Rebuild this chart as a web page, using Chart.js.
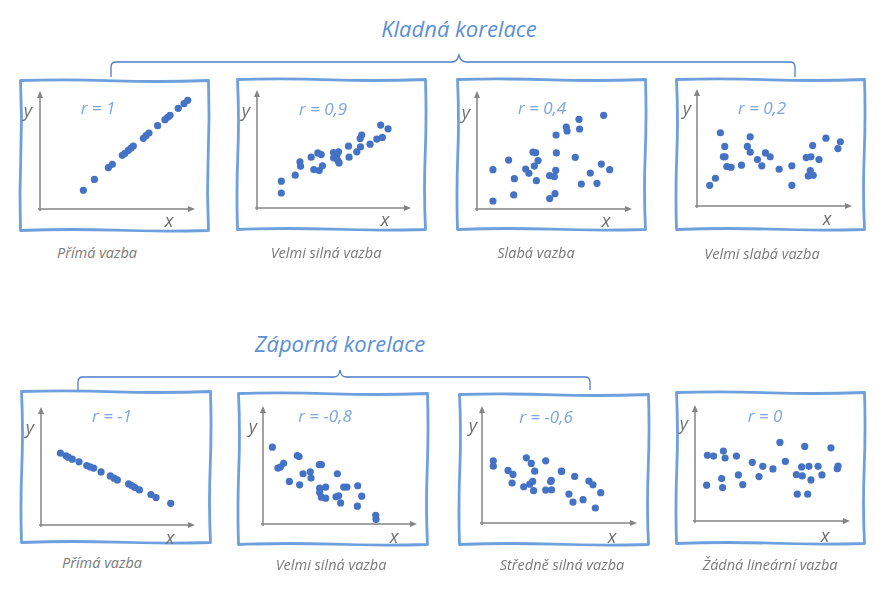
<!DOCTYPE html>
<html>
<head>
<meta charset="utf-8">
<script src="https://cdn.jsdelivr.net/npm/chart.js@4"></script>
<style>
  html, body { margin: 0; padding: 0; background: #ffffff; }
  #page { position: relative; width: 895px; height: 594px; overflow: hidden; font-family: "Open Sans", "DejaVu Sans", sans-serif; }
  .cbox { position: absolute; }
  .t { position: absolute; transform: translate(-50%, -50%); white-space: nowrap; font-style: italic; line-height: 1; }
  .title { font-size: 22px; color: #5b8fd6; }
  .rlab { font-size: 17px; color: #7ba6df; }
  .cap { font-size: 14.5px; color: #7a7a7a; }
  .ax { font-size: 18px; color: #6f6f6f; }
  svg { position: absolute; left: 0; top: 0; }
</style>
</head>
<body>
<div id="page">
<svg id="deco" width="895" height="594">
  <path d="M111,77 L111,67 Q111,62 116,62 L452,62 Q457,62 459,55 Q461,62 466,62 L790,62 Q795,62 795,67 L795,77" fill="none" stroke="#4d7cc8" stroke-width="1.3"/>
  <path d="M78,390 L78,382 Q78,377 83,377 L334,377 Q339,377 340,370 Q341,377 346,377 L585,377 Q590,377 590,382 L590,390" fill="none" stroke="#4d7cc8" stroke-width="1.3"/>
</svg>
</div>
<script>
// ---- data (axes 0..10) ----
const groupTitles = ["Kladná korelace", "Záporná korelace"];
const rLabels = ["r = 1", "r = 0,9", "r = 0,4", "r = 0,2", "r = -1", "r = -0,8", "r = -0,6", "r = 0"];
const captions = ["Přímá vazba", "Velmi silná vazba", "Slabá vazba", "Velmi slabá vazba",
                  "Přímá vazba", "Velmi silná vazba", "Středně silná vazba", "Žádná lineární vazba"];
const axisNames = ["x", "y"];

const ptsPos1 = [[2.80,1.58],[3.51,2.51],[4.41,3.50],[4.67,3.79],[5.31,4.55],[5.48,4.72],[5.70,4.97],[5.87,5.17],[6.02,5.34],[6.67,5.99],[6.84,6.21],[7.03,6.44],[7.59,7.06],[8.06,7.57],[8.24,7.77],[8.39,7.94],[8.92,8.53],[9.29,8.93],[9.53,9.21]];
const ptsPos09 = [[1.58,2.27],[1.58,1.27],[2.48,2.78],[2.79,3.91],[2.83,3.54],[3.52,4.31],[3.69,3.26],[3.95,4.67],[4.04,3.17],[4.17,4.53],[4.25,3.57],[4.97,4.70],[4.97,4.25],[5.18,4.48],[5.29,4.76],[5.25,4.02],[5.33,3.82],[5.94,5.24],[5.98,4.31],[6.48,4.76],[6.72,5.18],[6.70,5.89],[6.80,6.18],[7.34,5.41],[7.78,5.84],[8.03,7.03],[8.14,5.98],[8.51,6.71]];
const ptsPos04 = [[1.03,0.68],[1.03,3.33],[2.04,4.15],[2.37,1.19],[2.41,2.57],[3.14,3.39],[3.35,3.02],[3.61,4.83],[3.78,4.77],[3.70,3.64],[3.94,4.10],[3.83,2.40],[4.69,2.82],[4.69,0.88],[4.99,2.74],[5.08,3.28],[5.03,1.30],[5.12,4.75],[5.10,6.27],[5.76,6.95],[5.81,6.61],[6.34,4.38],[6.58,7.60],[6.62,6.78],[6.73,2.12],[7.31,3.05],[7.74,2.18],[8.02,3.81],[8.17,7.94],[8.56,3.33]];
const ptsPos02 = [[0.82,1.77],[1.19,2.37],[1.51,6.26],[1.79,5.09],[1.70,4.20],[1.81,4.20],[1.92,3.37],[2.20,3.31],[2.87,3.49],[3.25,5.09],[3.43,5.91],[3.43,4.60],[3.90,3.97],[4.18,3.43],[4.42,4.54],[4.72,4.20],[5.30,3.14],[6.12,3.43],[6.12,1.77],[7.05,4.14],[7.18,2.57],[7.31,3.03],[7.35,4.20],[7.46,5.17],[7.50,2.63],[7.87,3.97],[8.32,5.80],[9.09,4.91],[9.25,5.49]];
const ptsNeg1 = [[1.26,6.09],[1.62,5.86],[1.77,5.75],[2.03,5.58],[2.47,5.35],[2.97,5.04],[3.18,4.93],[3.42,4.82],[3.90,4.50],[4.50,4.16],[4.74,3.97],[4.96,3.82],[5.69,3.48],[5.89,3.34],[6.10,3.17],[6.39,2.97],[7.14,2.58],[7.47,2.32],[8.42,1.84]];
const ptsNeg08 = [[0.61,6.51],[0.97,4.74],[1.13,4.83],[1.34,5.14],[1.71,3.61],[2.23,5.80],[2.34,5.71],[2.38,3.32],[2.60,4.26],[3.07,4.43],[3.12,3.89],[3.66,5.03],[3.79,5.03],[3.68,3.04],[3.68,2.67],[3.79,2.27],[4.07,3.13],[4.07,2.19],[4.83,4.26],[4.74,2.30],[4.91,2.39],[5.04,1.79],[5.24,3.13],[5.45,3.13],[6.15,3.24],[6.41,2.36],[6.13,1.51],[7.32,0.74],[7.34,0.40]];
const ptsNeg06 = [[0.73,5.31],[0.73,4.86],[1.68,4.49],[2.00,4.15],[1.94,3.41],[2.69,3.10],[2.86,5.57],[3.18,5.09],[3.40,4.43],[3.08,3.32],[3.27,3.55],[3.33,2.76],[4.11,5.31],[4.11,2.81],[4.43,3.55],[4.47,3.64],[4.49,2.84],[5.12,4.43],[5.14,4.40],[5.61,2.47],[5.87,1.79],[5.98,3.98],[6.52,1.99],[6.90,3.58],[7.16,3.27],[7.31,1.28],[7.66,2.59]];
const ptsZero = [[0.75,3.09],[0.80,5.66],[1.20,5.60],[1.72,3.66],[1.78,2.89],[1.83,6.03],[1.94,5.43],[2.67,5.60],[2.80,3.97],[3.08,3.14],[3.70,5.06],[4.13,3.83],[4.37,4.71],[5.03,4.49],[5.48,6.77],[5.83,5.14],[6.54,4.00],[6.60,2.31],[6.88,4.66],[6.92,3.89],[7.08,6.43],[7.27,2.31],[7.35,4.71],[7.48,3.54],[7.94,4.71],[8.19,3.97],[8.77,6.31],[9.18,4.51],[9.23,4.74]];
const panelPoints = [ptsPos1, ptsPos09, ptsPos04, ptsPos02, ptsNeg1, ptsNeg08, ptsNeg06, ptsZero];

// ---- layout (positions only) ----
const frames = [[19,79,191,153],[236,78,191,153],[456,78,191,153],[675,78,191,153],
                [20,390,192,154],[237,392,192,154],[458,393,192,153],[675,391,191,154]];
// axis box: originX, originY, xTip, yTip
const axes = [[40,209,195,91],[257,208,411,90],[477,209,632,91],[697,206,852,89],
              [41,525,195,407],[263,524,417,406],[482,523,637,406],[695,521,850,405]];
const rPos = [[98,107],[323,108],[542,107],[762,107],[112,415],[325,415],[546,416],[765,415]];
const capPos = [[97,253],[326,253],[536,253],[762,254],[102,563],[331,565],[562,565],[770,565]];
const yLabPos = [[28,110],[246,110],[466,112],[687,108],[30,427],[253,426],[473,425],[684,423]];
const xLabPos = [[169,220],[385,219],[606,220],[827,218],[170,537],[394,536],[612,536],[825,535]];
const titlePos = [[459,28],[340,343]];

const page = document.getElementById('page');
const deco = document.getElementById('deco');
function addText(cls, txt, p) {
  const d = document.createElement('div');
  d.className = 't ' + cls; d.textContent = txt;
  d.style.left = p[0] + 'px'; d.style.top = p[1] + 'px';
  page.appendChild(d);
}
groupTitles.forEach((t, i) => addText('title', t, titlePos[i]));

// slightly hand-drawn looking frame (decoration only)
function wavyFrame(f) {
  const x0 = f[0] + 1.5, y0 = f[1] + 1.5, x1 = f[0] + f[2] - 1.5, y1 = f[1] + f[3] - 1.5;
  const w = x1 - x0, h = y1 - y0;
  const d = `M${x0},${y0} Q${x0 + w * 0.25},${y0 - 1.2} ${x0 + w * 0.5},${y0 + 0.3} T${x1},${y0}` +
            ` Q${x1 + 1.2},${y0 + h * 0.25} ${x1 - 0.3},${y0 + h * 0.5} T${x1},${y1}` +
            ` Q${x0 + w * 0.75},${y1 + 1.2} ${x0 + w * 0.5},${y1 - 0.3} T${x0},${y1}` +
            ` Q${x0 - 1.2},${y0 + h * 0.75} ${x0 + 0.3},${y0 + h * 0.5} T${x0},${y0} Z`;
  const p = document.createElementNS('http://www.w3.org/2000/svg', 'path');
  p.setAttribute('d', d); p.setAttribute('fill', 'none');
  p.setAttribute('stroke', '#6fa0de'); p.setAttribute('stroke-width', '2.8');
  p.setAttribute('stroke-linejoin', 'round');
  deco.appendChild(p);
}

const axisPlugin = {
  id: 'arrowAxes',
  beforeDatasetsDraw(chart) {
    const a = chart.chartArea, ctx = chart.ctx;
    ctx.save();
    ctx.strokeStyle = '#858585'; ctx.fillStyle = '#858585'; ctx.lineWidth = 1.5;
    ctx.beginPath();
    ctx.moveTo(a.left - 2, a.bottom); ctx.lineTo(a.right - 4, a.bottom);
    ctx.moveTo(a.left, a.bottom + 2); ctx.lineTo(a.left, a.top + 4);
    ctx.stroke();
    ctx.beginPath();
    ctx.moveTo(a.right, a.bottom); ctx.lineTo(a.right - 7, a.bottom - 3); ctx.lineTo(a.right - 7, a.bottom + 3); ctx.closePath();
    ctx.moveTo(a.left, a.top); ctx.lineTo(a.left - 3, a.top + 7); ctx.lineTo(a.left + 3, a.top + 7); ctx.closePath();
    ctx.fill();
    ctx.restore();
  }
};

const PAD = 8;
panelPoints.forEach((pts, i) => {
  wavyFrame(frames[i]);

  const ax = axes[i];
  const box = document.createElement('div');
  box.className = 'cbox';
  box.style.left = (ax[0] - PAD) + 'px';
  box.style.top = (ax[3] - PAD) + 'px';
  box.style.width = (ax[2] - ax[0] + 2 * PAD) + 'px';
  box.style.height = (ax[1] - ax[3] + 2 * PAD) + 'px';
  const cv = document.createElement('canvas');
  box.appendChild(cv);
  page.appendChild(box);

  new Chart(cv, {
    type: 'scatter',
    data: { datasets: [{ data: pts.map(p => ({ x: p[0], y: p[1] })),
      backgroundColor: '#4472c4', borderColor: '#4472c4', pointRadius: 3.6, pointBorderWidth: 0, clip: false }] },
    options: {
      responsive: true, maintainAspectRatio: false, animation: false,
      layout: { padding: PAD },
      plugins: { legend: { display: false }, tooltip: { enabled: false }, title: { display: false } },
      events: [],
      scales: {
        x: { type: 'linear', min: 0, max: 10, display: false },
        y: { type: 'linear', min: 0, max: 10, display: false }
      }
    },
    plugins: [axisPlugin]
  });

  addText('rlab', rLabels[i], rPos[i]);
  addText('cap', captions[i], capPos[i]);
  addText('ax', axisNames[1], yLabPos[i]);
  addText('ax', axisNames[0], xLabPos[i]);
});
</script>
</body>
</html>
